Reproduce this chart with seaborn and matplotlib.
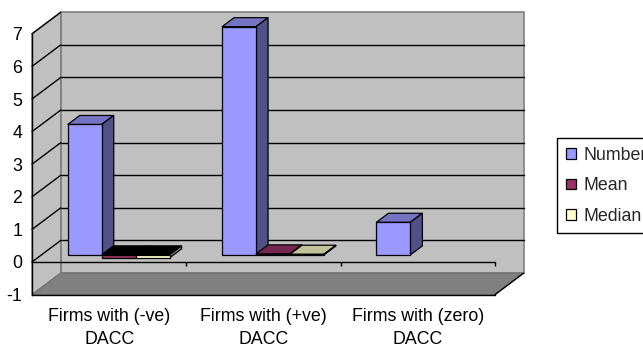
import matplotlib
matplotlib.use("Agg")
import matplotlib.pyplot as plt
from matplotlib.patches import Polygon, Patch
from matplotlib.transforms import Affine2D
import numpy as np
import pandas as pd
import seaborn as sns

# ---- data ----
categories = ["Firms with (-ve)\nDACC", "Firms with (+ve)\nDACC", "Firms with (zero)\nDACC"]
series = ["Number", "Mean", "Median"]
number_vals = [4, 7, 1]
mean_vals = [-0.09, 0.03, 0.0]
median_vals = [-0.09, 0.02, 0.0]
yticks = [-1, 0, 1, 2, 3, 4, 5, 6, 7]
colors = ["#9999FF", "#993366", "#FFFFCC"]

df = pd.DataFrame({
    "category": categories * 3,
    "series": ["Number"] * 3 + ["Mean"] * 3 + ["Median"] * 3,
    "value": number_vals + mean_vals + median_vals,
})

sns.set_style("white")
plt.rcParams["font.family"] = ["Liberation Sans", "DejaVu Sans"]
FS = 12.8

fig = plt.figure(figsize=(6.43, 3.48), dpi=100)
fig.patch.set_facecolor("white")
ax = fig.add_axes([32 / 643, (348 - 294.6) / 348, 463 / 643, (294.6 - 33.8) / 348])
ax.set_facecolor("none")

sns.barplot(data=df, x="category", y="value", hue="series", hue_order=series,
            order=categories, palette=colors, width=0.66, dodge=True, ax=ax,
            legend=False, errorbar=None, saturation=1, edgecolor="black",
            linewidth=0.9)

ax.set_xlim(-0.5, 2.5)
ax.set_ylim(-1, 7)
ax.set_xlabel("")
ax.set_ylabel("")

# 3D depth vector (data units)
Dx, Dy = 0.186, 0.66
f0, f1 = 0.33, 0.75
xl, xr = -0.5, 2.5
ylo, yhi = -1, 7

def poly(pts, **kw):
    p = Polygon(pts, closed=True, clip_on=False, **kw)
    ax.add_patch(p)
    return p

# back wall, side wall, floor
poly([(xl + Dx, ylo + Dy), (xr + Dx, ylo + Dy), (xr + Dx, yhi + Dy), (xl + Dx, yhi + Dy)],
     facecolor="#C0C0C0", edgecolor="#808080", linewidth=1.2, zorder=0.5)
poly([(xl, ylo), (xl + Dx, ylo + Dy), (xl + Dx, yhi + Dy), (xl, yhi)],
     facecolor="#C0C0C0", edgecolor="#808080", linewidth=1.0, zorder=0.6)
poly([(xl, ylo), (xr, ylo), (xr + Dx, ylo + Dy), (xl + Dx, ylo + Dy)],
     facecolor="#808080", edgecolor="#707070", linewidth=0.8, zorder=0.7)
ax.plot([xr, xr + Dx], [ylo, ylo + Dy], color="black", lw=1.0, clip_on=False, zorder=0.8)

# gridlines on back wall and side wall
for t in yticks:
    if 0 <= t < yhi:
        ax.plot([xl + Dx, xr + Dx], [t + Dy, t + Dy], color="black", lw=1.0,
                clip_on=False, zorder=1)
    if t >= 0:
        ax.plot([xl, xl + Dx], [t, t + Dy], color="black", lw=1.0,
                clip_on=False, zorder=1)

# front zero line with category ticks
ax.plot([xl, xr], [0, 0], color="black", lw=1.0, clip_on=False, zorder=2)
ax.vlines([0.5, 1.5, 2.5], -0.12, 0, color="black", lw=1.0, clip_on=False, zorder=2)

# extrude bars
bars = [p for p in ax.patches if p.__class__.__name__ == "Rectangle"]
bars.sort(key=lambda p: p.get_x())
shift0 = Affine2D().translate(f0 * Dx, f0 * Dy) + ax.transData
for i, p in enumerate(bars):
    x0 = p.get_x()
    x1 = x0 + p.get_width()
    h = p.get_height()
    yb = p.get_y()
    ya, yt = min(yb, yb + h), max(yb, yb + h)
    z = 3 + i * 0.01
    if h == 0:
        p.set_visible(False)
        continue
    fc = np.array(p.get_facecolor()[:3])
    side_c = fc * 0.53
    top_c = fc * 0.76 if h > 0 else np.zeros(3)
    p.set_transform(shift0)
    p.set_clip_on(False)
    p.set_zorder(z + 0.005)
    sx0, sy0 = f0 * Dx, f0 * Dy
    sx1, sy1 = f1 * Dx, f1 * Dy
    poly([(x0 + sx0, yt + sy0), (x1 + sx0, yt + sy0), (x1 + sx1, yt + sy1), (x0 + sx1, yt + sy1)],
         facecolor=top_c, edgecolor="black", linewidth=0.9, zorder=z)
    poly([(x1 + sx0, ya + sy0), (x1 + sx1, ya + sy1), (x1 + sx1, yt + sy1), (x1 + sx0, yt + sy0)],
         facecolor=side_c, edgecolor="black", linewidth=0.9, zorder=z)

# axes styling
for s in ["top", "right"]:
    ax.spines[s].set_visible(False)
for s in ["left", "bottom"]:
    ax.spines[s].set_color("black")
    ax.spines[s].set_linewidth(1.0)
    ax.spines[s].set_zorder(2)
ax.set_yticks(yticks)
ax.set_yticklabels([str(t) for t in yticks], fontsize=FS)
ax.tick_params(axis="y", direction="out", length=4, width=1, color="black", pad=3, labelcolor="black")
ax.set_xticks(range(len(categories)))
ax.set_xticklabels(categories, fontsize=FS)
for t in ax.get_xticklabels():
    t.set_linespacing(1.45)
ax.set_xticks([-0.5, 0.5, 1.5, 2.5], minor=True)
ax.tick_params(axis="x", which="major", length=0, pad=10, labelcolor="black")
ax.tick_params(axis="x", which="minor", direction="out", length=4, width=1, color="black")
ax.grid(False)

handles = [Patch(facecolor=c, edgecolor="black", linewidth=0.9, label=s) for c, s in zip(colors, series)]
leg = fig.legend(handles=handles, loc="upper left", bbox_to_anchor=(557 / 643, 1 - 138 / 348),
                 frameon=True, fancybox=False, edgecolor="black", framealpha=1,
                 borderpad=0.5, handlelength=0.55, handleheight=0.55, handletextpad=0.45,
                 labelspacing=0.75, fontsize=FS, borderaxespad=0)
leg.get_frame().set_linewidth(1.0)

fig.savefig("out.png", dpi=100)
